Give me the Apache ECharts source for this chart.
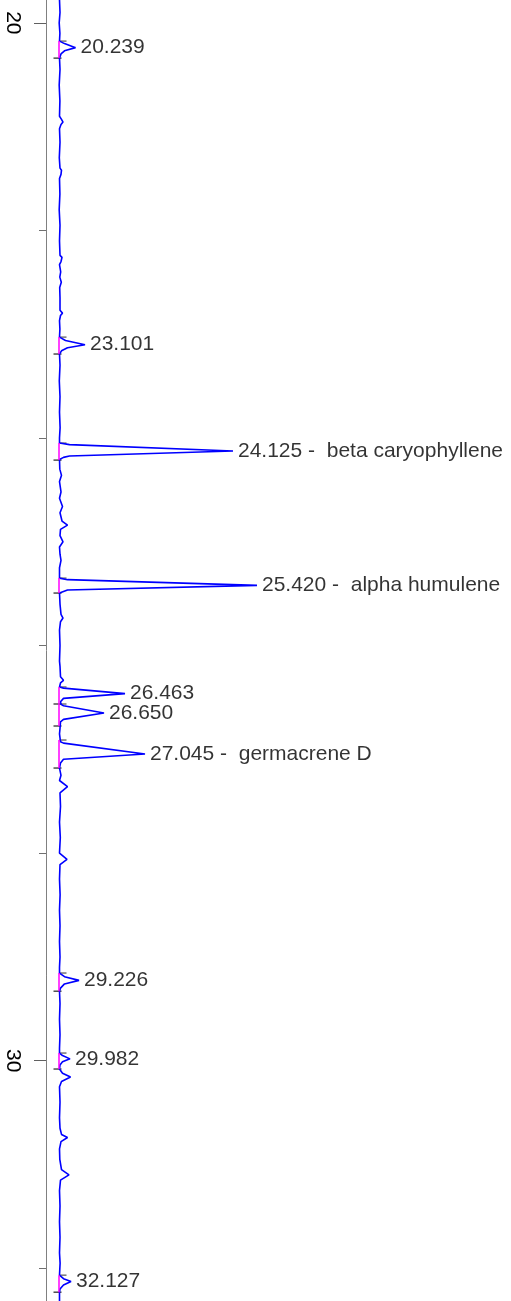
<!DOCTYPE html>
<html>
<head>
<meta charset="utf-8">
<script src="https://cdn.jsdelivr.net/npm/echarts@6/dist/echarts.min.js"></script>
<style>
html,body{margin:0;padding:0;background:#fff;}
#chart{width:511px;height:1301px;}
</style>
</head>
<body>
<div id="chart"></div>
<script>
// Retention time axis (minutes), vertical
const timeMin = 19.78;
const timeMax = 32.315;
const majorTicks = [20, 30];
const minorTicks = [20, 22, 24, 26, 28, 30, 32];

// Detector signal: [time (min), intensity]
const signal = [
  [19.78,0],[19.90,0.5],[20.00,-0.3],[20.10,0.4],
  [20.176,0],[20.20,5],[20.239,16],[20.27,5],[20.30,1.5],[20.34,0],
  [20.45,0.5],[20.60,-0.3],[20.75,0.4],[20.90,0],[20.93,2],[20.956,3.5],[20.98,1.5],[21.02,0],
  [21.15,0.5],[21.30,-0.2],[21.40,0.5],[21.42,2],[21.438,3.5],[21.46,1.5],[21.50,0],
  [21.65,0.4],[21.80,-0.3],[21.95,0.5],[22.10,0],[22.24,0.5],[22.26,2.5],[22.276,3.5],[22.30,1.5],[22.33,0],
  [22.40,1.2],[22.45,0.3],[22.50,1.8],[22.55,0.2],[22.65,0.5],[22.77,0.5],[22.797,3],[22.82,1],[22.87,0],[22.95,0.4],
  [23.028,0],[23.06,6],[23.101,25.5],[23.13,8],[23.16,2],[23.191,0],
  [23.30,0.5],[23.45,-0.2],[23.60,0.5],[23.75,0],[23.90,0.6],[24.00,0],
  [24.049,0],[24.064,10],[24.125,173.5],[24.173,10],[24.187,4],[24.207,0],
  [24.30,0.3],[24.36,2],[24.42,0],[24.52,1.5],[24.58,0],[24.66,3],[24.72,0.5],[24.80,2.5],[24.84,8],[24.88,1],
  [24.94,0.5],[25.00,3.5],[25.05,0],[25.12,0.5],[25.18,1.5],[25.25,0],
  [25.35,0],[25.365,8],[25.420,197.5],[25.465,8],[25.494,0],
  [25.60,0.5],[25.70,1.5],[25.735,3.5],[25.77,1],[25.85,0],[26.00,0.5],[26.15,0],[26.20,0.5],
  [26.30,1],[26.335,4],[26.36,1],
  [26.399,0],[26.41,4],[26.463,65.5],[26.509,4],[26.541,1],
  [26.567,1.5],[26.58,4],[26.650,44.5],[26.711,4],[26.734,1],
  [26.80,0.5],[26.85,0],[26.927,1],[26.94,4],[27.045,85.5],[27.096,4],[27.132,1],[27.18,0],
  [27.25,1.5],[27.30,0],[27.36,8],[27.42,0.5],[27.55,1],[27.70,0],[27.85,0.8],[28.00,0],
  [28.06,7.5],[28.11,0.5],[28.25,0],[28.40,0.6],[28.55,0],[28.70,0.5],[28.85,0],[29.00,0.5],[29.10,0],
  [29.155,0],[29.19,5],[29.226,19.5],[29.26,5],[29.30,1],[29.33,0],
  [29.45,0.5],[29.60,0],[29.75,0.5],[29.88,0],
  [29.926,0],[29.95,3],[29.982,10.5],[30.01,3],[30.04,0.5],[30.08,0],
  [30.12,3],[30.157,11],[30.20,2],[30.25,0],
  [30.40,0.5],[30.55,0],[30.65,0.5],[30.71,2],[30.74,8],[30.78,1.5],[30.85,0],
  [30.95,0.3],[31.05,2],[31.10,9.5],[31.15,1],[31.25,0],
  [31.40,0.5],[31.55,0],[31.70,0.5],[31.85,0],[31.95,0.6],
  [32.066,0],[32.10,4],[32.127,11.5],[32.16,4],[32.20,0.5],[32.23,0],[32.315,0]
];

// Integrated peaks
const peakTimes   = [20.239, 23.101, 24.125, 25.420, 26.463, 26.650, 27.045, 29.226, 29.982, 32.127];
const peakHeights = [16, 25.5, 173.5, 197.5, 65.5, 44.5, 85.5, 19.5, 10.5, 11.5];
const peakLabels  = ['20.239', '23.101', '24.125 -  beta caryophyllene', '25.420 -  alpha humulene',
                     '26.463', '26.650', '27.045 -  germacrene D', '29.226', '29.982', '32.127'];
const peakStarts  = [20.176, 23.028, 24.049, 25.350, 26.399, 26.563, 26.910, 29.155, 29.926, 32.066];
const peakEnds    = [20.340, 23.191, 24.213, 25.494, 26.563, 26.775, 27.180, 29.330, 30.080, 32.230];

const chart = echarts.init(document.getElementById('chart'), null, {renderer: 'canvas'});

const baseAxis = {
  type: 'value', min: timeMin, max: timeMax, inverse: true, position: 'left',
  splitLine: {show: false}
};

const option = {
  animation: false,
  backgroundColor: '#ffffff',
  grid: {left: 46, right: 0, top: 0, bottom: 0, containLabel: false},
  xAxis: {
    type: 'value', min: -13.5, max: 451.5, show: false
  },
  yAxis: [
    Object.assign({}, baseAxis, {
      axisLine: {show: true, onZero: false, lineStyle: {color: '#808080', width: 1}},
      axisTick: {show: true, length: 7, customValues: minorTicks, lineStyle: {color: '#707070', width: 1}},
      axisLabel: {show: false}
    }),
    Object.assign({}, baseAxis, {
      axisLine: {show: false, onZero: false},
      axisTick: {show: true, length: 12, customValues: majorTicks, lineStyle: {color: '#606060', width: 1}},
      axisLabel: {show: true, customValues: majorTicks, rotate: -90, margin: 23,
                  color: '#000', fontSize: 21, fontFamily: 'Liberation Sans, Arial, sans-serif'}
    })
  ],
  series: [
    {
      type: 'custom', name: 'markers', silent: true, z: 3,
      coordinateSystem: 'cartesian2d', xAxisIndex: 0, yAxisIndex: 0,
      encode: {x: 0, y: 1},
      data: peakStarts.map(s => [0, s, 0]).concat(peakEnds.map(e => [0, e, 1])),
      renderItem: function (params, api) {
        const p = api.coord([api.value(0), api.value(1)]);
        const isEnd = api.value(2) === 1;
        return {type: 'line',
                shape: {x1: p[0] + (isEnd ? -6 : 0), y1: p[1], x2: p[0] + (isEnd ? 2 : 7), y2: p[1]},
                style: {stroke: isEnd ? '#303030' : '#606060', lineWidth: 1.3}};
      }
    },
    {
      type: 'line', name: 'signal', z: 4,
      xAxisIndex: 0, yAxisIndex: 0,
      data: signal.map(d => [d[1], d[0]]),
      showSymbol: false, symbol: 'none',
      lineStyle: {color: '#0000ff', width: 1.6},
      silent: true
    },
    {
      type: 'custom', name: 'baseline', silent: true, z: 5,
      coordinateSystem: 'cartesian2d', xAxisIndex: 0, yAxisIndex: 0,
      encode: {x: 0, y: [1, 2]},
      data: peakStarts.map((s, i) => [0, s, peakEnds[i]]),
      renderItem: function (params, api) {
        const a = api.coord([api.value(0), api.value(1)]);
        const b = api.coord([api.value(0), api.value(2)]);
        return {type: 'line', shape: {x1: a[0] - 0.5, y1: a[1], x2: b[0] - 0.5, y2: b[1]},
                style: {stroke: '#ff00ff', lineWidth: 1.5}};
      }
    },
    {
      type: 'scatter', name: 'labels', z: 6,
      xAxisIndex: 0, yAxisIndex: 0,
      data: peakTimes.map((t, i) => [peakHeights[i], t]),
      symbolSize: 0, silent: true,
      label: {
        show: true, position: 'right', distance: 5,
        formatter: p => peakLabels[p.dataIndex],
        color: '#000', fontSize: 21, fontFamily: 'Liberation Sans, Arial, sans-serif'
      }
    }
  ]
};
chart.setOption(option);
</script>
</body>
</html>
